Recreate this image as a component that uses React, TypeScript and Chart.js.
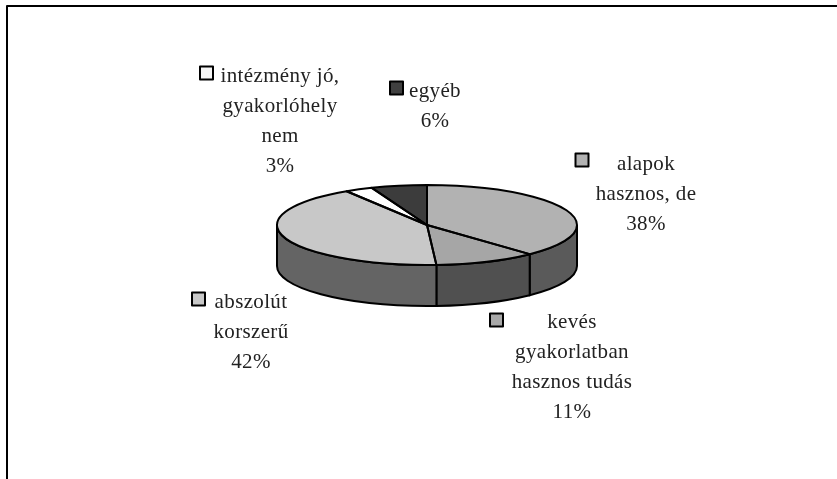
import React, { useEffect, useRef } from "react";
import { Chart, registerables } from "chart.js";

Chart.register(...registerables);

const categories = ["alapok hasznos, de", "kevés gyakorlatban hasznos tudás", "abszolút korszerű", "intézmény jó, gyakorlóhely nem", "egyéb"];
const shares = [38, 11, 42, 3, 6];
const topColors = ["#b2b2b2", "#a6a6a6", "#c8c8c8", "#ffffff", "#3c3c3c"];
const sideColors = ["#5a5a5a", "#505050", "#646464", "#808080", "#202020"];
const swatchColors = ["#b2b2b2", "#a8a8a8", "#c8c8c8", "#f5f5f5", "#404040"];
const labelLines = [
  ["alapok", "hasznos, de"],
  ["kevés", "gyakorlatban", "hasznos tudás"],
  ["abszolút", "korszerű"],
  ["intézmény jó,", "gyakorlóhely", "nem"],
  ["egyéb"],
];

// layout of the free-floating data labels: text centre x, first baseline y, swatch x, swatch y
const labelLayout = [
  { cx: 646, y: 170, sx: 575.5, sy: 153.5 },
  { cx: 572, y: 328, sx: 490, sy: 313.5 },
  { cx: 251, y: 308, sx: 192, sy: 292.5 },
  { cx: 280, y: 82, sx: 200, sy: 66.5 },
  { cx: 435, y: 97, sx: 390, sy: 81.5 },
];

const RY = 40;
const DEPTH = 41;
const FONT = '21px "Liberation Serif"';
const LINE_H = 30;
const TEXT = "#222222";
const STROKE = "#000000";

const pie3d = {
  id: "pie3d",
  beforeDatasetsDraw(chart: any) {
    const arcs = chart.getDatasetMeta(0).data;
    const { ctx } = chart;
    const { x: cx, y: cy, outerRadius: rx } = arcs[0];
    // side wall, only the front half of the disc is visible
    ctx.save();
    ctx.lineWidth = 2;
    ctx.strokeStyle = STROKE;
    arcs.forEach((arc: any, i: number) => {
      const a = Math.max(arc.startAngle, 0);
      const b = Math.min(arc.endAngle, Math.PI);
      if (b <= a) return;
      ctx.beginPath();
      ctx.ellipse(cx, cy, rx, RY, 0, a, b);
      ctx.ellipse(cx, cy + DEPTH, rx, RY, 0, b, a, true);
      ctx.closePath();
      ctx.fillStyle = sideColors[i];
      ctx.fill();
      ctx.stroke();
    });
    ctx.restore();
    // squash the library's circular pie into the top face
    ctx.save();
    ctx.translate(0, cy);
    ctx.scale(1, RY / rx);
    ctx.translate(0, -cy);
  },
  afterDatasetsDraw(chart: any) {
    const { ctx, width, height } = chart;
    ctx.restore();
    const arcs = chart.getDatasetMeta(0).data;
    const { x: cx, y: cy, outerRadius: rx } = arcs[0];
    ctx.save();
    ctx.lineWidth = 2;
    ctx.strokeStyle = STROKE;
    ctx.lineJoin = "round";
    arcs.forEach((arc: any) => {
      ctx.beginPath();
      ctx.moveTo(cx, cy);
      ctx.ellipse(cx, cy, rx, RY, 0, arc.startAngle, arc.endAngle);
      ctx.closePath();
      ctx.stroke();
    });
    // labels
    ctx.font = FONT;
    (ctx as any).letterSpacing = "0.35px";
    ctx.textAlign = "center";
    ctx.textBaseline = "alphabetic";
    labelLayout.forEach((l, i) => {
      ctx.fillStyle = swatchColors[i];
      ctx.fillRect(l.sx, l.sy, 13, 13);
      ctx.strokeRect(l.sx, l.sy, 13, 13);
      ctx.fillStyle = TEXT;
      const lines = [...labelLines[i], `${shares[i]}%`];
      lines.forEach((t, k) => ctx.fillText(t, l.cx, l.y + k * LINE_H));
    });
    // frame: only the top and left edges are in the picture
    ctx.beginPath();
    ctx.moveTo(7, height);
    ctx.lineTo(7, 6);
    ctx.lineTo(width, 6);
    ctx.stroke();
    ctx.restore();
  },
};

export default function App() {
  const ref = useRef<HTMLCanvasElement>(null);
  useEffect(() => {
    const chart = new Chart(ref.current!, {
      type: "pie",
      data: {
        labels: categories,
        datasets: [{ data: shares, backgroundColor: topColors, borderWidth: 0 }],
      },
      options: {
        animation: false,
        responsive: false,
        layout: { padding: { left: 277, right: 260, top: 75, bottom: 104 } },
        plugins: { legend: { display: false }, tooltip: { enabled: false } },
      },
      plugins: [pie3d],
    });
    return () => chart.destroy();
  }, []);
  return (
    <div style={{ position: "fixed", left: 0, top: 0, width: 837, height: 479, background: "#fff" }}>
      <canvas ref={ref} width={837} height={479} style={{ display: "block" }} />
    </div>
  );
}
